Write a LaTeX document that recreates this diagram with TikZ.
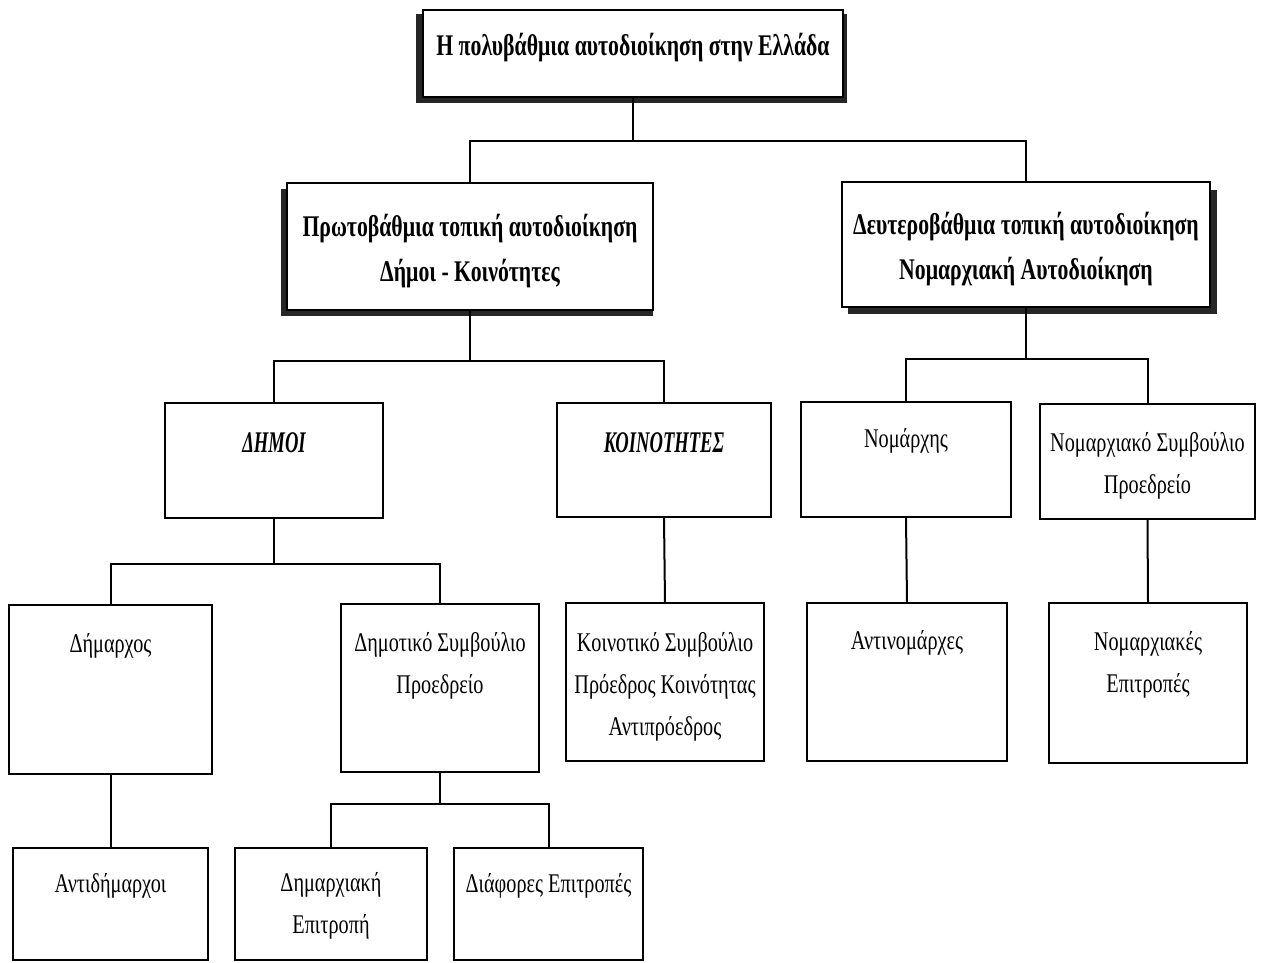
\documentclass[tikz,border=0pt]{standalone}
\usepackage{fontspec}
\setmainfont{Liberation Serif}[FakeStretch=0.75]
\newfontfamily\bfam{Liberation Serif}[FakeStretch=0.725]
\newfontfamily\capsfont{Liberation Serif}[FakeStretch=0.62]
\newcommand\fl{\rule{0pt}{32pt}}
\tikzset{
 box/.style={draw, line width=1.9pt, fill=white, inner sep=0pt},
 topbox/.style={box, line width=2.4pt},
 lbl/.style={align=center, inner sep=0pt, font=\fontsize{27}{42}\selectfont, anchor=north},
 blbl/.style={align=center, inner sep=0pt, font=\fontsize{30}{45}\selectfont\bfam\bfseries, anchor=north},
 clbl/.style={align=center, inner sep=0pt, font=\fontsize{30}{42}\selectfont\capsfont\bfseries\itshape, anchor=north},
 conn/.style={line width=2pt},
 shadow/.style={fill=black!85}
}
\newcommand\mybox[6][box]{\node[#1, minimum width={(#4-#3)*1pt}, minimum height={(#6-#5)*1pt}] (#2) at ({(#3+#4)/2},{(#5+#6)/2}) {};}
\begin{document}
\begin{tikzpicture}[x=1pt,y=-1pt]
\useasboundingbox (0,0) rectangle (1261,963);
\fill[white] (0,0) rectangle (1261,963);
% shadows
\fill[shadow] (416,14) rectangle (847,103);
\fill[shadow] (281,189) rectangle (653,316);
\fill[shadow] (848,190) rectangle (1217,314);
% boxes
\mybox[topbox]{top}{423}{843}{10}{97}
\mybox{prim}{287}{653}{183}{310}
\mybox{sec}{842}{1210}{182}{307}
\mybox{dimoi}{165}{383}{403}{518}
\mybox{koin}{557}{771}{403}{517}
\mybox{nomarx}{801}{1011}{402}{517}
\mybox{nomsymv}{1040}{1255}{404}{519}
\mybox{dimarx}{9}{212}{605}{774}
\mybox{dimsymv}{341}{539}{604}{772}
\mybox{koinsymv}{566}{764}{603}{761}
\mybox{antinom}{807}{1007}{603}{761}
\mybox{nomepit}{1049}{1247}{603}{763}
\mybox{antidim}{13}{208}{848}{960}
\mybox{dimepit}{235}{427}{848}{960}
\mybox{diaf}{454}{643}{848}{960}
% connectors
\draw[conn] (top.south) -- ++(0,43) coordinate (j1);
\draw[conn] (prim.north) |- (j1) -| (sec.north);
\draw[conn] (prim.south) -- ++(0,50) coordinate (j2);
\draw[conn] (dimoi.north) |- (j2) -| (koin.north);
\draw[conn] (sec.south) -- ++(0,51) coordinate (j3);
\draw[conn] (nomarx.north) |- (j3) -| (nomsymv.north);
\draw[conn] (dimoi.south) -- ++(0,45) coordinate (j4);
\draw[conn] (dimarx.north) |- (j4) -| (dimsymv.north);
\draw[conn] (koin.south) -- (koinsymv.north);
\draw[conn] (nomarx.south) -- (antinom.north);
\draw[conn] (nomsymv.south) -- (nomepit.north);
\draw[conn] (dimarx.south) -- (antidim.north);
\draw[conn] (dimsymv.south) -- ++(0,31) coordinate (j5);
\draw[conn] (dimepit.north) |- (j5) -| (diaf.north);
% labels (first-line strut 32pt: yshift = 32 - baseline offset)
\node[blbl] (top-t) at ([yshift=-15pt]top.north) {\fl Η πολυβάθμια αυτοδιοίκηση στην Ελλάδα};
\node[blbl] (prim-t) at ([yshift=-22pt]prim.north) {\fl Πρωτοβάθμια τοπική αυτοδιοίκηση\\Δήμοι - Κοινότητες};
\node[blbl] (sec-t) at ([yshift=-21pt]sec.north) {\fl Δευτεροβάθμια τοπική αυτοδιοίκηση\\Νομαρχιακή Αυτοδιοίκηση};
\node[clbl] (dimoi-t) at ([yshift=-18pt]dimoi.north) {\fl ΔΗΜΟΙ};
\node[clbl] (koin-t) at ([yshift=-18pt]koin.north) {\fl ΚΟΙΝΟΤΗΤΕΣ};
\node[lbl] (nomarx-t) at ([yshift=-14pt]nomarx.north) {\fl Νομάρχης};
\node[lbl] (nomsymv-t) at ([yshift=-16pt]nomsymv.north) {\fl Νομαρχιακό Συμβούλιο\\Προεδρείο};
\node[lbl] (dimarx-t) at ([yshift=-16pt]dimarx.north) {\fl Δήμαρχος};
\node[lbl] (dimsymv-t) at ([yshift=-16pt]dimsymv.north) {\fl Δημοτικό Συμβούλιο\\Προεδρείο};
\node[lbl] (koinsymv-t) at ([yshift=-17pt]koinsymv.north) {\fl Κοινοτικό Συμβούλιο\\Πρόεδρος Κοινότητας\\Αντιπρόεδρος};
\node[lbl] (antinom-t) at ([yshift=-15pt]antinom.north) {\fl Αντινομάρχες};
\node[lbl] (nomepit-t) at ([yshift=-16pt]nomepit.north) {\fl Νομαρχιακές\\Επιτροπές};
\node[lbl] (antidim-t) at ([yshift=-13pt]antidim.north) {\fl Αντιδήμαρχοι};
\node[lbl] (dimepit-t) at ([yshift=-12pt]dimepit.north) {\fl Δημαρχιακή\\Επιτροπή};
\node[lbl] (diaf-t) at ([yshift=-13pt]diaf.north) {\fl Διάφορες Επιτροπές};
\end{tikzpicture}
\end{document}
